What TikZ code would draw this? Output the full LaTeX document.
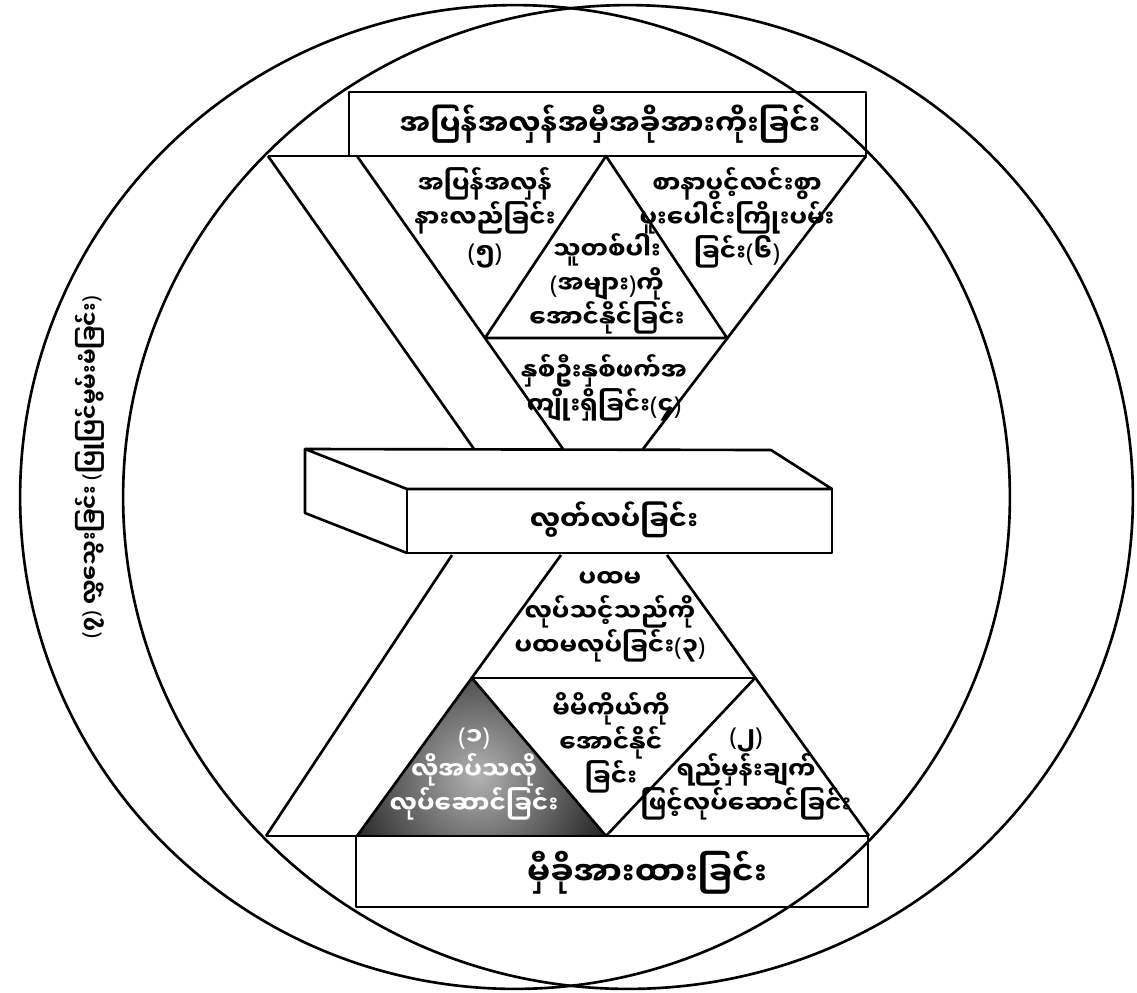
\documentclass[tikz,border=0pt]{standalone}
\usepackage{fontspec}
\newfontfamily\mmfont[Script=Myanmar]{Noto Sans Myanmar UI}
\newfontfamily\latfont{Noto Sans}
\newcommand\inpar[1]{{\latfont(}#1{\latfont)}}
\begin{document}
\begin{tikzpicture}[x=0.02cm, y=-0.02cm,
    edge/.style={line width=1.5pt, line join=round},
    txt/.style={font=\mmfont\bfseries\fontsize{14}{19.5}\selectfont, align=center, inner sep=0pt},
    boxtxt/.style={txt, font=\mmfont\bfseries\fontsize{#1}{20}\selectfont}]
  \useasboundingbox (0,0) rectangle (1137,992);
  \fill[white] (0,0) rectangle (1137,992);

  % shaded habit 1
  \begin{scope}
    \clip (472,678) -- (357,836) -- (606,836) -- cycle;
    \shade[inner color=black!30, outer color=black!90] (478,775) circle [radius=3cm];
  \end{scope}

  % two rings
  \draw[edge] (515,497) ellipse [x radius=9.9cm, y radius=9.84cm];
  \draw[edge] (628,497) ellipse [x radius=10.1cm, y radius=9.84cm];

  % upper half
  \draw[edge] (349,92) rectangle (866,156);
  \draw[edge] (268,156) -- (866,156);
  \draw[edge] (268,156) -- (474,449);
  \draw[edge] (357,156) -- (563,449);
  \draw[edge] (866,156) -- (643,449);
  \draw[edge] (485,338) -- (606,156) -- (727,338) -- cycle;

  % middle block
  \draw[edge] (305,449) -- (771,450) -- (832,489) -- (407,489) -- cycle;
  \draw[edge] (407,489) rectangle (832,553);
  \draw[edge] (305,449) -- (305,513) -- (407,553);

  % lower half
  \draw[edge] (452,555) -- (266,836);
  \draw[edge] (561,555) -- (357,836);
  \draw[edge] (667,555) -- (869,836);
  \draw[edge] (472,678) -- (755,678);
  \draw[edge] (472,678) -- (606,836) -- (755,678);
  \draw[edge] (266,836) -- (869,836);
  \draw[edge] (356,836) rectangle (868,907);

  \node[boxtxt=16.5] (inter) at (610,124) {အပြန်အလှန်အမှီအခိုအားကိုးခြင်း};
  \node[txt] (h5) at (485,218) {အပြန်အလှန်\\နားလည်ခြင်း\\\inpar{၅}};
  \node[txt] (h6) at (737,218) {စာနာပွင့်လင်းစွာ\\ပူးပေါင်းကြိုးပမ်း\\ခြင်း\inpar{၆}};
  \node[txt] (pubwin) at (607,284) {သူတစ်ပါး\\\inpar{အများ}ကို\\အောင်နိုင်ခြင်း};
  \node[txt] (h4) at (604,388) {နှစ်ဦးနှစ်ဖက်အ\\ကျိုးရှိခြင်း\inpar{၄}};
  \node[boxtxt=15.5] (indep) at (614,520) {လွတ်လပ်ခြင်း};
  \node[txt] (h3) at (610,617) {ပထမ\\လုပ်သင့်သည်ကို\\ပထမလုပ်ခြင်း\inpar{၃}};
  \node[txt] (privwin) at (611,743) {မိမိကိုယ်ကို\\အောင်နိုင်\\ခြင်း};
  \node[txt, text=white] (h1) at (474,774) {\inpar{၁}\\လိုအပ်သလို\\လုပ်ဆောင်ခြင်း};
  \node[txt] (h2) at (746,774) {\inpar{၂}\\ရည်မှန်းချက်\\ဖြင့်လုပ်ဆောင်ခြင်း};
  \node[boxtxt=18.5] (dep) at (647,873) {မှီခိုအားထားခြင်း};
  \node[txt, font=\mmfont\bfseries\fontsize{12.5}{15}\selectfont, rotate=90] (h7) at (90,467) {\inpar{၇} လွှသွေးခြင်း \inpar{ပြုပြင်မွမ်းမံခြင်း}};
\end{tikzpicture}
\end{document}
